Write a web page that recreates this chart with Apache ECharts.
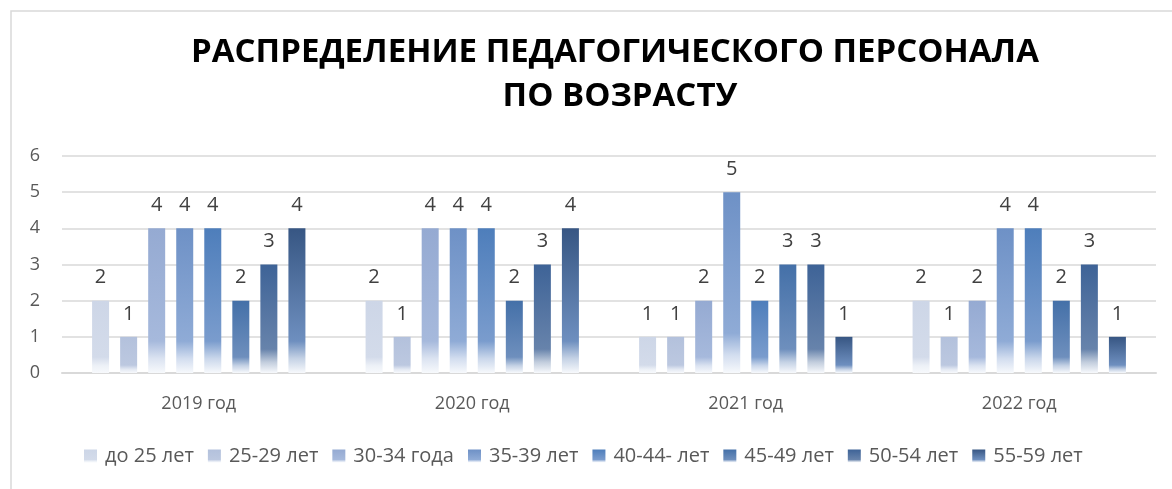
<!DOCTYPE html>
<html>
<head>
<meta charset="utf-8">
<script src="https://cdn.jsdelivr.net/npm/echarts@6/dist/echarts.min.js"></script>
<style>
  html, body { margin: 0; padding: 0; background: #fff; }
  #chart { width: 1172px; height: 489px; }
</style>
</head>
<body>
<div id="chart"></div>
<script>
const categories = ["2019 год", "2020 год", "2021 год", "2022 год"];
const seriesNames = ["до 25 лет", "25-29 лет", "30-34 года", "35-39 лет", "40-44- лет", "45-49 лет", "50-54 лет", "55-59 лет"];
const under25 = [2, 2, 1, 2];
const age25to29 = [1, 1, 1, 1];
const age30to34 = [4, 4, 2, 2];
const age35to39 = [4, 4, 5, 4];
const age40to44 = [4, 4, 2, 4];
const age45to49 = [2, 2, 3, 2];
const age50to54 = [3, 3, 3, 3];
const age55to59 = [4, 4, 1, 1];
const seriesValues = [under25, age25to29, age30to34, age35to39, age40to44, age45to49, age50to54, age55to59];
const titleLines = ["РАСПРЕДЕЛЕНИЕ ПЕДАГОГИЧЕСКОГО ПЕРСОНАЛА", "ПО ВОЗРАСТУ"];

// top colour of each bar, faded to white near the base
const topColors = ["#cdd6e7", "#b3c1dc", "#95aad2", "#6e91c6", "#4e7ebb", "#4470a8", "#3e6397", "#375683"];
const midColors = ["#d3dbea", "#bcc8e0", "#a6b9dc", "#8fabd6", "#7a9ccd", "#6e8fbd", "#6783ab", "#6e8fbf"];

function mix(hex, t) {
  const n = parseInt(hex.slice(1), 16);
  const r = (n >> 16) & 255, g = (n >> 8) & 255, b = n & 255;
  const f = (c) => Math.round(c + (255 - c) * t);
  return `rgb(${f(r)},${f(g)},${f(b)})`;
}

function barGradient(i) {
  return {
    type: "linear", x: 0, y: 0, x2: 0, y2: 1,
    colorStops: [
      { offset: 0, color: topColors[i] },
      { offset: 0.78, color: midColors[i] },
      { offset: 0.9, color: mix(midColors[i], 0.6) },
      { offset: 1, color: "#f7f9fc" },
    ],
  };
}

const font = "'Open Sans', 'DejaVu Sans', sans-serif";

const chart = echarts.init(document.getElementById("chart"));
chart.setOption({
  animation: false,
  textStyle: { fontFamily: font },
  graphic: [
    { type: "rect", shape: { x: 11, y: 11, width: 1300, height: 600 }, style: { fill: "none", stroke: "#d9d9d9", lineWidth: 1.5 }, silent: true },
    { type: "text", x: 615, y: 53, style: { text: titleLines[0], font: `bold 33px ${font}`, fill: "#000", textAlign: "center", textVerticalAlign: "middle" } },
    { type: "text", x: 620, y: 97, style: { text: titleLines[1], font: `bold 33px ${font}`, fill: "#000", textAlign: "center", textVerticalAlign: "middle" } },
  ],
  legend: {
    data: seriesNames,
    top: 446,
    left: 84,
    padding: 0,
    itemWidth: 13,
    itemHeight: 13,
    itemGap: 14,
    icon: "rect",
    textStyle: { fontSize: 20, color: "#595959", fontFamily: font, padding: [0, 0, 0, 3] },
  },
  grid: { left: 62, right: 16, top: 156, bottom: 116 },
  xAxis: {
    type: "category",
    data: categories,
    axisTick: { show: false },
    axisLine: { lineStyle: { color: "#d9d9d9", width: 2 } },
    axisLabel: { fontSize: 18, color: "#595959", margin: 22, fontFamily: font },
  },
  yAxis: {
    type: "value",
    min: 0,
    max: 6,
    interval: 1,
    axisLine: { show: false },
    axisTick: { show: false },
    axisLabel: { fontSize: 18, color: "#595959", margin: 22, fontFamily: font },
    splitLine: { lineStyle: { color: "#d9d9d9", width: 1.5 } },
  },
  series: seriesNames.map((name, i) => ({
    name,
    type: "bar",
    data: seriesValues[i],
    barGap: "65%",
    barCategoryGap: "22%",
    itemStyle: { color: barGradient(i) },
    label: { show: true, position: "top", distance: 13, fontSize: 20, color: "#404040", fontFamily: font },
  })),
});
</script>
</body>
</html>
